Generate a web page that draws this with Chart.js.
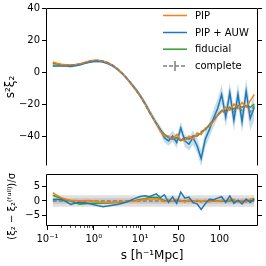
<!DOCTYPE html>
<html>
<head>
<meta charset="utf-8">
<script src="https://cdn.jsdelivr.net/npm/chart.js@4.4.1/dist/chart.umd.min.js"></script>
<style>
  body { margin: 0; background: #fff; }
  #wrap { position: relative; width: 266px; height: 266px; overflow: hidden; }
  canvas { position: absolute; left: 0; }
  #mainCanvas { top: 0; }
  #resCanvas { top: 166px; }
</style>
</head>
<body>
<div id="wrap">
  <canvas id="mainCanvas" width="266" height="174"></canvas>
  <canvas id="resCanvas" width="266" height="100"></canvas>
</div>
<script>
"use strict";

// separation s [h^-1 Mpc]: log bins below 20, 5 Mpc bins above
const sBins = [0.13, 0.16, 0.2, 0.25, 0.32, 0.4, 0.5, 0.63, 0.79, 1.0, 1.26, 1.58,
               2.0, 2.51, 3.16, 3.98, 5.01, 6.31, 7.94, 10.0, 12.6, 15.8,
               22.5, 27.5, 32.5, 37.5, 42.5, 47.5, 52.5, 57.5, 62.5, 67.5, 72.5,
               77.5, 82.5, 87.5, 92.5, 97.5, 102.5, 107.5, 112.5, 117.5, 122.5,
               127.5, 132.5, 137.5, 142.5]

// s^2 xi_2 (top panel)
const completeMain = [4.2, 4.0, 4.0, 4.1, 4.3, 4.6, 5.1, 5.8, 6.6, 7.2, 7.3, 6.9,
                      5.9, 4.4, 2.3, -0.4, -3.6, -7.2, -11.0, -15.2, -20.0, -25.2,
                      -32, -36, -39, -41, -42, -41, -43, -41, -42, -40, -40,
                      -37, -36, -33, -30, -27, -24, -26, -22, -25, -21,
                      -24, -20, -25, -21]
const pipMain      = [6.3, 5.5, 4.8, 4.5, 4.5, 4.7, 5.2, 6.0, 6.9, 7.4, 7.3, 6.8,
                      5.8, 4.3, 2.2, -0.5, -3.7, -7.3, -11.0, -15.1, -19.8, -25.0,
                      -32, -37, -40, -40, -42, -39, -42, -43, -40, -42, -38,
                      -39, -35, -34, -31, -27, -25, -22, -24, -20, -23,
                      -19, -22, -18, -14]
const auwMain      = [3.8, 3.8, 3.9, 3.7, 3.4, 3.9, 4.6, 5.4, 6.1, 6.6, 6.7, 6.2,
                      5.3, 3.9, 1.9, -0.7, -3.6, -7.0, -10.6, -14.6, -19.3, -24.5,
                      -32, -36, -41, -43, -40, -44, -35, -43, -45, -41, -46,
                      -54, -42, -36, -29, -23, -14, -28, -13, -30, -14,
                      -31, -12, -29, -22]
const auwErr       = [0.6, 0.6, 0.6, 0.6, 0.6, 0.6, 0.6, 0.6, 0.7, 0.7, 0.7, 0.7,
                      0.8, 0.8, 0.9, 0.9, 1.0, 1.1, 1.2, 1.3, 1.5, 1.7,
                      2, 2.5, 3, 3, 3.5, 3.5, 4, 4, 4, 4.5, 4.5,
                      5, 5, 5, 5.5, 6, 6, 6.5, 6.5, 7, 7,
                      7, 7.5, 7.5, 8]
const fidMain      = [5.4, 5.0, 4.6, 4.3, 4.2, 4.2, 4.6, 5.4, 6.3, 6.9, 7.0, 6.6,
                      5.6, 4.2, 2.1, -0.5, -3.6, -7.2, -10.9, -15.0, -19.8, -25.0,
                      -32, -36, -39, -41, -42, -41, -43, -41, -42, -40, -40,
                      -38, -36, -33, -30, -27, -24, -24, -22, -23, -21,
                      -22, -21, -22, -20]

// (xi_2 - xi_2^full) / sigma (bottom panel)
const pipRes = [2.9, 2.0, 1.2, 0.6, 0.3, 0.2, 0.1, 0.1, 0.2, 0.0, -0.3, -0.4,
                -0.4, -0.4, -0.4, -0.3, -0.3, -0.2, 0.0, 0.3, 0.5, 0.7,
                0.8, 0.5, -0.3, 0.4, 0.0, 0.6, 0.2, -0.4, 0.5, -0.5, 0.3,
                -0.4, 0.2, -0.3, 0.2, -0.2, 0.3, -0.2, 0.5, 0.6, -0.4,
                0.3, -0.5, 0.7, 1.0]
const auwRes = [0.5, 0.6, 0.5, -0.2, -1.2, -0.7, -0.5, -0.6, -0.9, -1.3, -1.7, -2.0,
                -1.8, -1.5, -1.2, -0.9, -0.4, 0.3, 1.0, 1.6, 1.8, 1.5,
                2.5, 1.2, 2.2, -0.5, 1.5, -0.8, 3.1, 1.0, 1.4, -0.6, -1.0,
                -3.0, -1.0, 0.6, 0.4, 1.0, 1.5, -0.5, 1.8, -0.8, 0.3,
                -1.0, 0.7, -0.5, 0.8]
const fidRes = [2.0, 1.5, 0.9, 0.4, 0.0, -0.6, -1.1, -1.0, -0.9, -0.8, -0.8, -0.7,
                -0.7, -0.6, -0.5, -0.4, -0.2, 0.0, 0.2, 0.5, 0.8, 1.2,
                1.3, 0.8, 0.2, 0.0, 0.1, 0.3, 0.0, 0.0, 0.2, -0.2, 0.0,
                -0.2, 0.0, -0.1, 0.0, 0.0, 0.1, 0.0, 0.1, 0.2, 0.0,
                0.1, 0.0, 0.2, 0.3]
const sigmaLevels = [1, 2]

// axes
const mainYTicks  = [-40, -20, 0, 20, 40]
const resYTicks   = [-5, 0, 5]
const xTickVals   = [0.1, 1, 10, 50, 100]
const xTickLabels = ['10\u207B\u00B9', '10\u2070', '10\u00B9', '50', '100']
const xMinorVals  = [0.2, 0.3, 0.4, 0.5, 0.6, 0.7, 0.8, 0.9, 2, 3, 4, 5, 6, 7, 8, 9, 20]

// x axis is log below S_BREAK and linear above it
const S_BREAK = 20
const LIN_SCALE = 0.01763
function toU(s) {
    if (s <= S_BREAK) return Math.log10(s)
    return Math.log10(S_BREAK) + (s - S_BREAK) * LIN_SCALE
}
const uMin = -1.032
const uMax = toU(147)

const FONT = "'DejaVu Sans', sans-serif"
const C_PIP = '#ff7f0e', C_AUW = '#1f77b4', C_FID = '#2ca02c', C_COMP = '#7f7f7f'

function pts(ys) { return ys.map((y, i) => ({ x: toU(sBins[i]), y: y })) }
function edgePts(y) { return [{ x: toU(sBins[0]), y: y }, { x: toU(sBins[sBins.length - 1]), y: y }] }
function minus(v) { return String(v).replace('-', '\u2212') }

function line(label, ys, color, dash) {
    return { label: label, data: ys, borderColor: color, borderWidth: 1.5,
             borderDash: dash || [], pointRadius: 0, fill: false, tension: 0 }
}
function band(data, color, fill) {
    return { data: data, borderWidth: 0, borderColor: 'rgba(0,0,0,0)', backgroundColor: color,
             pointRadius: 0, fill: fill, tension: 0 }
}

const framePlugin = {
    id: 'frame',
    afterDraw(chart, args, opts) {
        const a = chart.chartArea, ctx = chart.ctx
        const l = a.left + 0.5, r = a.right - 0.5, t = a.top + 0.5, b = a.bottom - 0.5
        ctx.save()
        ctx.strokeStyle = '#000'
        ctx.lineWidth = 1
        ctx.beginPath()
        ctx.moveTo(l, b); ctx.lineTo(l, t); ctx.lineTo(r, t); ctx.lineTo(r, b)
        if (!opts.skipBottom) ctx.lineTo(l, b)
        ctx.stroke()
        ctx.restore()
    }
}

const legendPlugin = {
    id: 'miniLegend',
    afterDraw(chart) {
        const ctx = chart.ctx
        const rows = [15.5, 32.5, 49.2, 66]
        ctx.save()
        ctx.font = '10px ' + FONT
        ctx.textBaseline = 'middle'
        ctx.fillStyle = '#000'
        const order = [1, 2, 3, 0]   // PIP, PIP + AUW, fiducial, complete
        order.forEach((di, k) => {
            const ds = chart.data.datasets[di]
            const y = rows[k]
            ctx.strokeStyle = ds.borderColor
            ctx.lineWidth = 1.5
            ctx.setLineDash(ds.borderDash)
            ctx.beginPath(); ctx.moveTo(163, y); ctx.lineTo(187, y); ctx.stroke()
            ctx.setLineDash([])
            if (ds.errorbar) {
                ctx.beginPath(); ctx.moveTo(175, y - 5); ctx.lineTo(175, y + 5); ctx.stroke()
            }
            ctx.fillText(ds.label, 195, y + 0.5)
        })
        ctx.restore()
    }
}

const minorTickPlugin = {
    id: 'minorTicks',
    afterDraw(chart) {
        const xs = chart.scales.x, ctx = chart.ctx, b = chart.chartArea.bottom
        ctx.save()
        ctx.strokeStyle = '#000'
        ctx.lineWidth = 0.7
        xMinorVals.forEach(s => {
            const px = Math.round(xs.getPixelForValue(toU(s))) + 0.5
            ctx.beginPath(); ctx.moveTo(px, b); ctx.lineTo(px, b + 2); ctx.stroke()
        })
        ctx.restore()
    }
}

function yAxis(min, max, tickVals, title, titleSize, titlePad) {
    return {
        position: 'left', min: min, max: max,
        afterBuildTicks: s => { s.ticks = tickVals.map(v => ({ value: v })) },
        afterFit: s => { s.width = 46 },
        ticks: { color: '#000', font: { family: FONT, size: 10 }, padding: 2, callback: v => minus(v) },
        grid: { drawOnChartArea: false, color: '#000', tickLength: 4, tickWidth: 1 },
        border: { display: false },
        title: { display: true, text: title, color: '#000', font: { family: FONT, size: titleSize },
                 padding: { top: titlePad, bottom: 0 } }
    }
}
function yRight(min, max, tickVals) {
    return {
        position: 'right', min: min, max: max,
        afterBuildTicks: s => { s.ticks = tickVals.map(v => ({ value: v })) },
        afterFit: s => { s.width = 8 },
        ticks: { callback: () => '', padding: 0 },
        grid: { drawOnChartArea: false, color: '#000', tickLength: 4, tickWidth: 1 },
        border: { display: false }
    }
}

const bandHi = auwMain.map((v, i) => v + auwErr[i])
const bandLo = auwMain.map((v, i) => v - auwErr[i])

const completeDs = line('complete', pts(completeMain), C_COMP, [4, 2])
completeDs.errorbar = true

const mainChart = new Chart(document.getElementById('mainCanvas').getContext('2d'), {
    type: 'line',
    data: {
        datasets: [
            completeDs,
            line('PIP', pts(pipMain), C_PIP),
            line('PIP + AUW', pts(auwMain), C_AUW),
            line('fiducial', pts(fidMain), C_FID),
            band(pts(bandHi), 'rgba(31,119,180,0.25)', '+1'),
            band(pts(bandLo), 'rgba(31,119,180,0.25)', false)
        ]
    },
    options: {
        responsive: false, animation: false, devicePixelRatio: 1,
        layout: { padding: { top: 8, right: 0, bottom: 1, left: 0 } },
        scales: {
            x: { type: 'linear', min: uMin, max: uMax, display: false },
            y: yAxis(-58.7, 40, mainYTicks, 's\u00B2\u03BE\u2082', 12, 4),
            yR: yRight(-58.7, 40, mainYTicks)
        },
        plugins: { legend: { display: false }, tooltip: { enabled: false }, frame: { skipBottom: true } }
    },
    plugins: [framePlugin, legendPlugin]
})

const resChart = new Chart(document.getElementById('resCanvas').getContext('2d'), {
    type: 'line',
    data: {
        datasets: [
            line('PIP + AUW', pts(auwRes), C_AUW),
            line('PIP', pts(pipRes), C_PIP),
            line('complete', edgePts(0), C_COMP, [4, 2]),
            line('fiducial', pts(fidRes), C_FID),
            band(edgePts(sigmaLevels[0]), 'rgba(128,128,128,0.25)', '+1'),
            band(edgePts(-sigmaLevels[0]), 'rgba(128,128,128,0.25)', false),
            band(edgePts(sigmaLevels[1]), 'rgba(128,128,128,0.25)', '+1'),
            band(edgePts(-sigmaLevels[1]), 'rgba(128,128,128,0.25)', false)
        ]
    },
    options: {
        responsive: false, animation: false, devicePixelRatio: 1,
        layout: { padding: { top: 7, right: 0, bottom: 0, left: 0 } },
        scales: {
            x: {
                type: 'linear', min: uMin, max: uMax,
                afterBuildTicks: s => { s.ticks = xTickVals.map(v => ({ value: toU(v) })) },
                afterFit: s => { s.height = 40 },
                ticks: { color: '#000', font: { family: FONT, size: 10 }, padding: 3,
                         maxRotation: 0, autoSkip: false, callback: (v, i) => xTickLabels[i] },
                grid: { drawOnChartArea: false, color: '#000', tickLength: 4, tickWidth: 1 },
                border: { display: false },
                title: { display: true, text: 's [h\u207B\u00B9Mpc]', color: '#000',
                         font: { family: FONT, size: 12 }, padding: { top: 0, bottom: 3 } }
            },
            y: yAxis(-8.8, 9.5, resYTicks,
                     '(\u03BE\u2082 \u2212 \u03BE\u2082\u207D\u1DA0\u1D58\u02E1\u02E1\u207E)/\u03C3    ', 10, 6),
            yR: yRight(-8.8, 9.5, resYTicks)
        },
        plugins: { legend: { display: false }, tooltip: { enabled: false }, frame: {} }
    },
    plugins: [framePlugin, minorTickPlugin]
})
</script>
</body>
</html>
